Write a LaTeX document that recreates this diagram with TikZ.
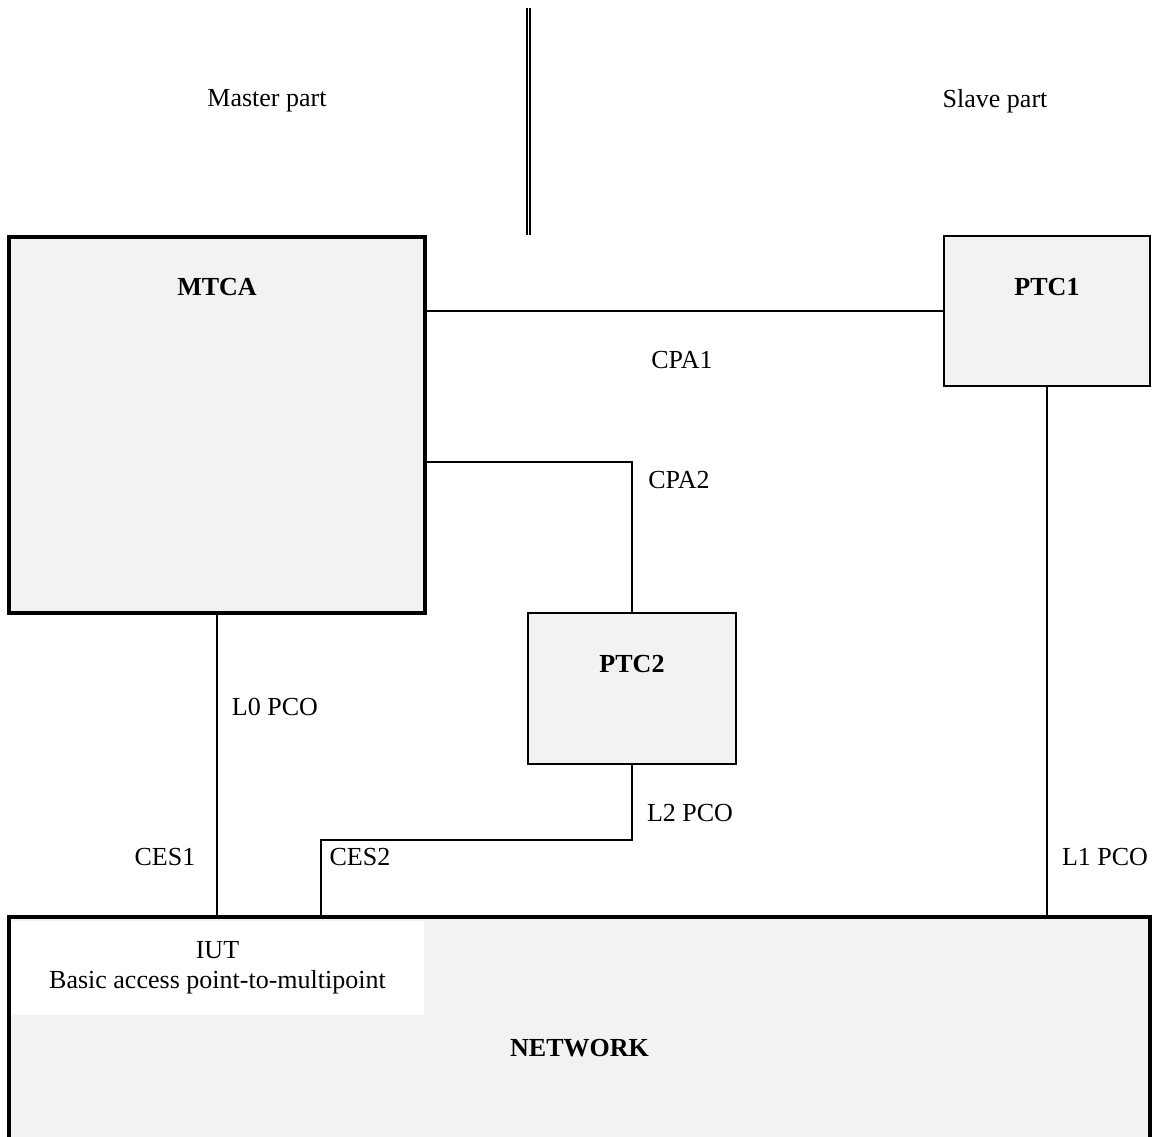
\documentclass[tikz,border=0pt]{standalone}
\usepackage{fontspec}
\setmainfont{Liberation Serif}
\usepackage{tikz}

\definecolor{boxgray}{RGB}{242,242,242}
\newcommand{\diagfont}{\fontsize{18.5}{21}\selectfont}

\begin{document}
\begin{tikzpicture}[x=0.025cm,y=-0.025cm]
                \tikzstyle{box}=[rectangle, draw=black, fill=boxgray, line width=1.4pt, inner sep=0pt]
                \tikzstyle{bigbox}=[box, line width=2.8pt]
                \tikzstyle{boxname}=[anchor=center, yshift=-1.3cm, font=\diagfont\bfseries]
                \tikzstyle{tag}=[font=\diagfont, inner sep=0pt]
                \tikzstyle{link} = [draw, line width=1.4pt, -]

                \useasboundingbox (0,0) rectangle (1152,1137);

                % master / slave divider
                \draw[line width=1.7pt, double, double distance=0.7pt] (528.6,8) -- (528.6,235);
                \node[tag] (master) at (267,101) {Master part};
                \node[tag] (slave) at (995,101) {Slave part};

                \node[bigbox, minimum width=10.4cm, minimum height=9.4cm, label={[boxname]north:MTCA}] (mtca) at (217,425) {};
                \node[box, minimum width=5.15cm, minimum height=3.75cm, label={[boxname]north:PTC1}] (ptc1) at (1047,311) {};
                \node[box, minimum width=5.2cm, minimum height=3.775cm, label={[boxname]north:PTC2}] (ptc2) at (632,688.5) {};
                \node[bigbox, minimum width=28.525cm, minimum height=6.55cm, font=\diagfont\bfseries] (network) at (579.5,1048) {NETWORK};
                \node[tag, fill=white, minimum width=10.325cm, minimum height=2.35cm, align=center] (iut) at (217.5,968) {IUT\\Basic access point-to-multipoint};

                \coordinate (mtcaport) at (425,462);
                \coordinate (netport) at (321,840);

                \path[link] (mtca.east |- ptc1.west) -- (ptc1.west);
                \path[link] (mtcaport) -| (ptc2.north);
                \path[link] (ptc2.south) |- (netport) -- (netport |- network.north);
                \foreach \source in {mtca, ptc1}
                \path[link] (\source.south) -- (\source.south |- network.north);

                \node[tag] (cpa1) at (682,360) {CPA1};
                \node[tag] (cpa2) at (679,480) {CPA2};
                \node[tag] (l0) at (275,707) {L0 PCO};
                \node[tag] (ces1) at (165,857) {CES1};
                \node[tag] (l2) at (690,813) {L2 PCO};
                \node[tag] (ces2) at (360,857) {CES2};
                \node[tag] (l1) at (1105,857) {L1 PCO};
            \end{tikzpicture}
\end{document}
